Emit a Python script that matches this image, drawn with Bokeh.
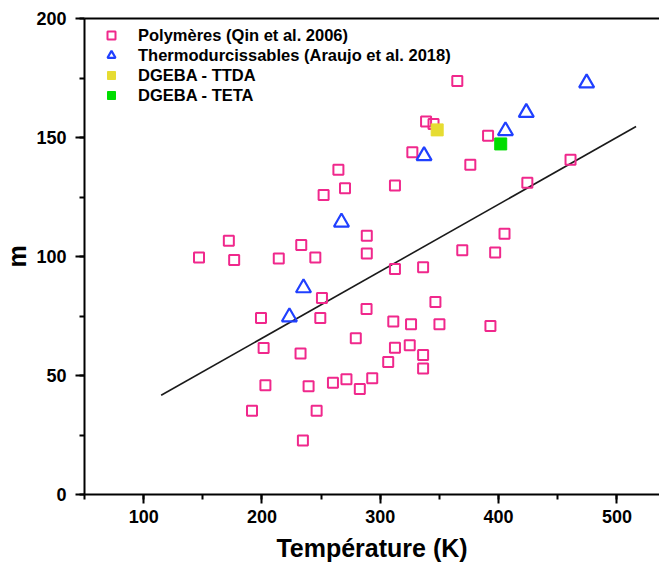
from bokeh.plotting import figure
from bokeh.models import (LinearAxis, SingleIntervalTicker, FixedTicker, Range1d, Legend, LegendItem)
from bokeh.embed import file_html
from bokeh.resources import INLINE

# Polymères (Qin et al. 2006)
poly_T = [365.1, 338.7, 345.0, 391.1, 327.1, 376.1, 460.8, 424.3, 264.6, 270.2,
          252.1, 312.4, 288.6, 288.6, 233.2, 245.1, 405.0, 369.3, 397.1, 312.4,
          336.2, 250.7, 249.3, 288.4, 346.6, 311.0, 326.0, 350.0, 393.1, 279.3,
          312.4, 324.9, 336.2, 306.7, 336.2, 232.6, 239.4, 260.0, 271.4, 282.7,
          293.2, 246.2, 234.6, 172.0, 146.8, 176.5, 214.2, 199.2, 201.4, 202.9,
          191.6]
poly_m = [173.7, 156.7, 155.7, 150.7, 143.8, 138.5, 140.6, 131.0, 136.4, 128.7,
          125.8, 129.8, 108.7, 101.3, 104.8, 99.6, 109.6, 102.6, 101.7, 94.7,
          95.5, 82.6, 74.2, 77.9, 80.9, 72.7, 71.5, 71.5, 70.8, 65.7,
          61.7, 62.7, 58.6, 55.7, 52.9, 59.2, 45.5, 47.0, 48.4, 44.3,
          48.8, 35.2, 22.7, 106.6, 99.6, 98.5, 99.2, 74.2, 61.6, 45.9,
          35.2]

# Thermodurcissables (Araujo et al. 2018)
thermo_T = [223.2, 235.1, 267.2, 337.0, 405.8, 423.4, 474.4]
thermo_m = [74.6, 86.8, 114.4, 142.3, 152.8, 160.5, 172.9]

ttda_T = [348.1]
ttda_m = [153.2]
teta_T = [401.8]
teta_m = [147.3]

fit_T = [114.8, 516.2]
fit_m = [41.7, 154.6]

FONT = "Liberation Sans"

p = figure(width=659, height=564, output_backend="svg", toolbar_location=None,
           x_range=Range1d(50, 536), y_range=Range1d(0, 200),
           x_axis_label="Température (K)", y_axis_label="m")
p.min_border_left = 79
p.min_border_right = 0
p.min_border_top = 18
p.min_border_bottom = 0
p.outline_line_color = None
p.grid.grid_line_color = None
p.background_fill_color = "white"

for ax in (p.xaxis[0], p.yaxis[0]):
    ax.axis_line_width = 2
    ax.axis_line_color = "black"
    ax.major_tick_line_width = 2
    ax.minor_tick_line_width = 2
    ax.major_tick_out = 9
    ax.major_tick_in = 0
    ax.minor_tick_out = 5
    ax.minor_tick_in = 0
    ax.major_label_text_font = FONT
    ax.major_label_text_font_style = "bold"
    ax.major_label_text_font_size = "18px"
    ax.major_label_text_color = "black"
    ax.axis_label_text_font = FONT
    ax.axis_label_text_font_style = "bold"
    ax.axis_label_text_font_size = "25px"
    ax.axis_label_text_color = "black"

p.xaxis[0].ticker = SingleIntervalTicker(interval=100, num_minor_ticks=2)
p.yaxis[0].ticker = SingleIntervalTicker(interval=50, num_minor_ticks=2)
p.xaxis[0].major_label_standoff = 6
p.xaxis[0].axis_label_standoff = 8
p.yaxis[0].major_label_standoff = 9
p.yaxis[0].axis_label_standoff = 2

top = LinearAxis(ticker=FixedTicker(ticks=[]))
top.axis_line_width = 2
top.axis_line_color = "black"
top.major_tick_line_color = None
top.minor_tick_line_color = None
top.major_label_standoff = 0
p.add_layout(top, "above")

p.line(fit_T, fit_m, line_color="#1a1a1a", line_width=1.6)

r_poly = p.scatter(poly_T, poly_m, marker="square", size=10, fill_color=None,
                   line_color="#F0288C", line_width=2)
r_thermo = p.scatter(thermo_T, thermo_m, marker="triangle", size=15, fill_color=None,
                     line_color="#2040FF", line_width=2.2)
r_ttda = p.scatter(ttda_T, ttda_m, marker="square", size=12, fill_color="#E6DC32",
                   line_color="#E6DC32")
r_teta = p.scatter(teta_T, teta_m, marker="square", size=12, fill_color="#00DD00",
                   line_color="#00DD00")

legend = Legend(items=[
    LegendItem(label="Polymères (Qin et al. 2006)", renderers=[r_poly]),
    LegendItem(label="Thermodurcissables (Araujo et al. 2018)", renderers=[r_thermo]),
    LegendItem(label="DGEBA - TTDA", renderers=[r_ttda]),
    LegendItem(label="DGEBA - TETA", renderers=[r_teta]),
], location="top_left")
legend.margin = 7
legend.padding = 10
legend.glyph_width = 40
legend.glyph_height = 20
legend.label_height = 20
legend.label_standoff = 7
legend.spacing = 0
legend.border_line_color = None
legend.background_fill_alpha = 0
legend.label_text_font = FONT
legend.label_text_font_style = "bold"
legend.label_text_font_size = "16.5px"
legend.label_text_color = "black"
p.add_layout(legend)

open("out.html", "w").write(file_html(p, INLINE))
